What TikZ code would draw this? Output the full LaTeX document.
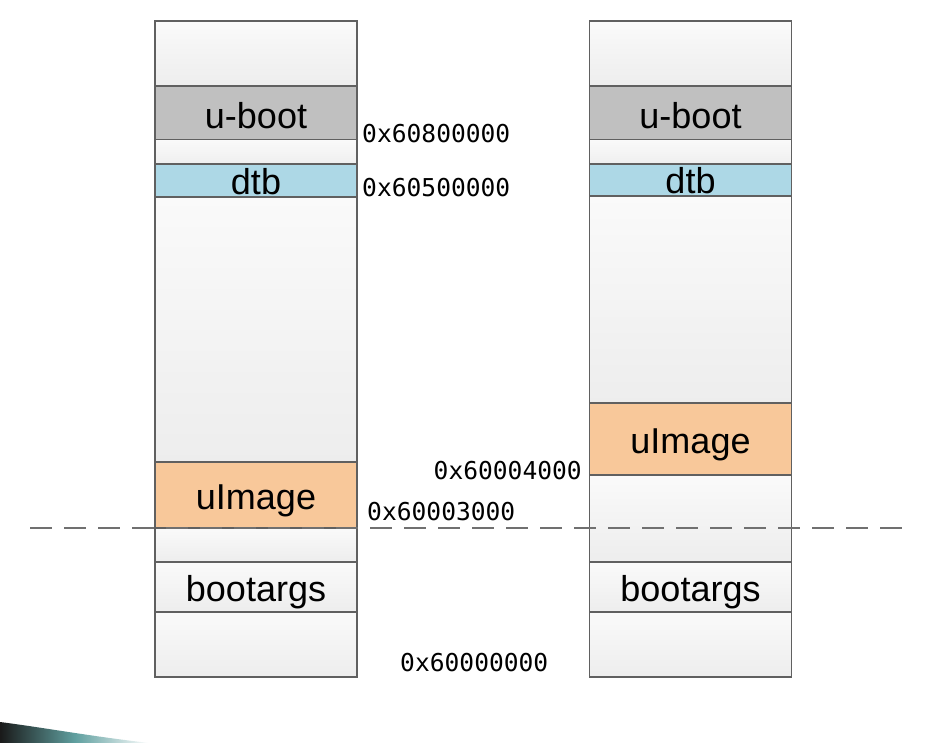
\documentclass[tikz,border=0pt]{standalone}
\usepackage{fontspec}
\setmainfont{Liberation Sans}
\newfontfamily\addrfont{DejaVu Sans Mono}
\definecolor{Edge}{RGB}{96,96,96}
\definecolor{Boot}{RGB}{192,192,192}
\definecolor{Dtb}{RGB}{173,216,230}
\definecolor{Img}{RGB}{248,200,154}
\definecolor{Dash}{RGB}{112,112,112}

\begin{document}
\begin{tikzpicture}[x=1pt, y=1pt,
    seg/.style={draw=Edge, line width=1.5pt, minimum width=202pt, inner sep=0pt, outer sep=0pt,
                text height=28pt, text depth=0pt, font=\fontsize{36}{40}\selectfont},
    blank/.style={seg, top color=white!98!black, bottom color=black!7},
    boot/.style={seg, fill=Boot},
    dtb/.style={seg, fill=Dtb},
    img/.style={seg, fill=Img},
    addr/.style={inner sep=0pt, font=\addrfont\fontsize{24.6}{26}\selectfont}]
      \useasboundingbox (0,0) rectangle (949,-743);
      \shade[left color=black!90, right color=white, middle color=cyan!25!gray]
        (0,-722) .. controls (40,-727) and (95,-737) .. (150,-743) -- (0,-743) -- cycle;

      \node[blank, minimum height=65pt] (ltop) at (256,-53.5) {};
      \node[boot, minimum height=57pt] (lboot) at (256,-114.5) {u-boot};
      \node[blank, minimum height=21pt] (lgap) at (256,-153.5) {};
      \node[dtb, minimum height=33pt] (ldtb) at (256,-180.5) {dtb};
      \node[blank, minimum height=265pt] (lfree) at (256,-329.5) {};
      \node[img, minimum height=66pt] (limg) at (256,-495) {uImage};
      \node[blank, minimum height=34pt] (lmid) at (256,-545) {};
      \node[blank, minimum height=50pt] (largs) at (256,-587) {bootargs};
      \node[blank, minimum height=65pt] (lbot) at (256,-644.5) {};

      \node[blank, minimum height=65pt] (rtop) at (690.5,-53.5) {};
      \node[boot, minimum height=57pt] (rboot) at (690.5,-114.5) {u-boot};
      \node[blank, minimum height=21pt] (rgap) at (690.5,-153.5) {};
      \node[dtb, minimum height=32pt] (rdtb) at (690.5,-180) {dtb};
      \node[blank, minimum height=207pt] (rfree) at (690.5,-299.5) {};
      \node[img, minimum height=72pt] (rimg) at (690.5,-439) {uImage};
      \node[blank, minimum height=87pt] (rmid) at (690.5,-518.5) {};
      \node[blank, minimum height=50pt] (rargs) at (690.5,-587) {bootargs};
      \node[blank, minimum height=65pt] (rbot) at (690.5,-644.5) {};

      \node[addr, anchor=west] (a608) at (362,-134) {0x60800000};
      \node[addr, anchor=west] (a605) at (362,-188) {0x60500000};
      \node[addr, anchor=east] (a6004) at (582,-471) {0x60004000};
      \node[addr, anchor=west] (a6003) at (367,-512) {0x60003000};
      \node[addr, anchor=west] (a6000) at (400,-663) {0x60000000};

      \coordinate (dl) at (30,-528);
      \coordinate (dr) at (903,-528);
      \draw[Dash, line width=1.5pt, dash pattern=on 22pt off 12pt] (dl) -- (dr);
    \end{tikzpicture}
\end{document}
